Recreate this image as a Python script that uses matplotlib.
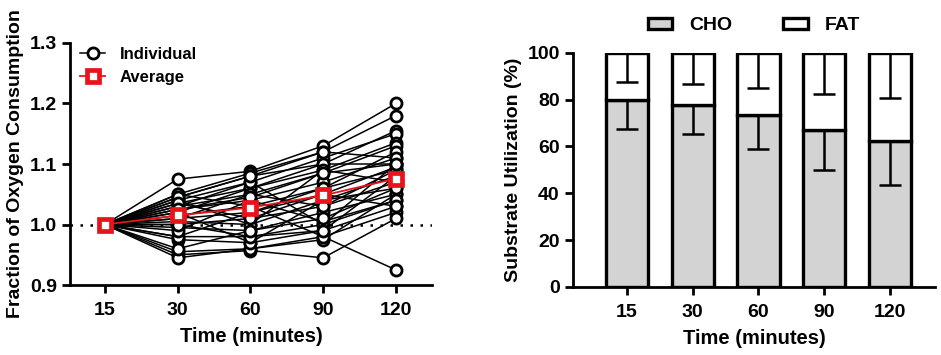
import matplotlib
matplotlib.use("Agg")
import matplotlib.pyplot as plt
import numpy as np
from matplotlib.patches import Patch

TIMES = ["15", "30", "60", "90", "120"]

# individual subjects, fraction of oxygen consumption at 15/30/60/90/120 min
INDIVIDUAL = [
    [1.0, 1.075, 1.088, 1.130, 1.200],
    [1.0, 1.050, 1.085, 1.120, 1.180],
    [1.0, 1.045, 1.080, 1.100, 1.155],
    [1.0, 1.040, 1.070, 1.110, 1.150],
    [1.0, 1.035, 1.060, 1.090, 1.135],
    [1.0, 1.030, 1.050, 1.085, 1.130],
    [1.0, 1.025, 1.040, 1.070, 1.110],
    [1.0, 1.020, 1.060, 1.100, 1.100],
    [1.0, 1.015, 1.030, 1.060, 1.090],
    [1.0, 1.010, 1.020, 1.050, 1.095],
    [1.0, 1.005, 1.000, 1.040, 1.080],
    [1.0, 1.000, 1.010, 1.030, 1.070],
    [1.0, 0.995, 0.990, 1.020, 1.050],
    [1.0, 0.980, 0.980, 1.000, 1.040],
    [1.0, 0.975, 0.970, 0.990, 1.030],
    [1.0, 0.955, 0.960, 0.980, 1.020],
    [1.0, 0.950, 0.957, 0.945, 1.010],
    [1.0, 0.945, 0.960, 0.975, 1.050],
    [1.0, 1.050, 1.030, 0.980, 0.925],
    [1.0, 1.040, 1.000, 1.090, 1.070],
    [1.0, 1.030, 1.070, 1.000, 1.100],
    [1.0, 0.980, 1.020, 1.060, 1.120],
    [1.0, 1.020, 0.970, 1.040, 1.060],
    [1.0, 1.010, 1.050, 1.030, 1.090],
    [1.0, 1.045, 1.080, 1.120, 1.110],
    [1.0, 0.990, 1.040, 1.005, 1.040],
    [1.0, 1.000, 0.980, 0.990, 1.080],
    [1.0, 1.035, 1.010, 1.050, 1.030],
    [1.0, 0.960, 0.990, 1.010, 1.060],
    [1.0, 1.025, 1.045, 1.085, 1.100],
]
AVERAGE = [1.0, 1.015, 1.028, 1.048, 1.076]

# substrate utilization (%)
CHO_MEAN = [79.7, 77.7, 73.3, 66.9, 62.2]
CHO_SD = [12.1, 12.3, 14.3, 17.1, 18.5]
FAT_MEAN = [20.3, 22.3, 26.7, 33.1, 37.8]
FAT_SD = [12.4, 13.1, 14.8, 17.6, 19.3]

RED = "#e8141b"
GREY = "#d3d3d3"

plt.rcParams.update({
    "font.family": ["Liberation Sans", "DejaVu Sans"],
    "font.weight": "bold",
    "axes.labelweight": "bold",
    "axes.linewidth": 2.0,
    "xtick.major.width": 2.0,
    "ytick.major.width": 2.0,
    "xtick.major.size": 6,
    "ytick.major.size": 6,
    "xtick.major.pad": 6,
    "xtick.labelsize": 14,
    "ytick.labelsize": 14,
})

fig = plt.figure(figsize=(9.41, 3.55), dpi=100)
ax1 = fig.add_axes([0.0744, 0.197, 0.385, 0.682])
ax2 = fig.add_axes([0.609, 0.192, 0.385, 0.659])

# ---- left panel
x = np.arange(len(TIMES))
ax1.axhline(1.0, color="black", lw=1.8, ls=(0, (1, 3)), zorder=1)
for i, row in enumerate(INDIVIDUAL):
    ax1.plot(x, row, color="black", lw=1.1, marker="o", ms=8,
             mfc="white", mec="black", mew=2.0, zorder=2,
             label="Individual" if i == 0 else None)
ax1.plot(x, AVERAGE, color=RED, lw=1.3, marker="s", ms=9,
         mfc="white", mec=RED, mew=3.4, zorder=5, label="Average")

ax1.set_xlim(-0.48, 4.5)
ax1.set_ylim(0.9, 1.3)
ax1.set_yticks([0.9, 1.0, 1.1, 1.2, 1.3])
ax1.set_xticks(x)
ax1.set_xticklabels(TIMES)
for s in ["top", "right"]:
    ax1.spines[s].set_visible(False)
ax1.set_xlabel("Time (minutes)", fontsize=14.5, labelpad=6)
ax1.set_ylabel("Fraction of Oxygen Consumption", fontsize=14)
ax1.legend(loc="upper left", bbox_to_anchor=(0.0, 1.025), frameon=False,
           fontsize=12, handlelength=1.5, handletextpad=0.9,
           borderaxespad=0.2, labelspacing=0.5)

# ---- right panel
bw = 0.64
ax2.bar(x, CHO_MEAN, width=bw, color=GREY, edgecolor="black", lw=2.4,
        zorder=2, label="CHO")
ax2.bar(x, FAT_MEAN, width=bw, bottom=CHO_MEAN, color="white",
        edgecolor="black", lw=2.4, zorder=2, label="FAT")
ax2.errorbar(x, CHO_MEAN, yerr=[CHO_SD, [0] * len(x)], fmt="none",
             ecolor="black", elinewidth=1.8, capsize=8, capthick=1.8, zorder=3)
top = np.array(CHO_MEAN) + np.array(FAT_MEAN)
ax2.errorbar(x, top, yerr=[FAT_SD, [0] * len(x)], fmt="none",
             ecolor="black", elinewidth=1.8, capsize=8, capthick=1.8, zorder=3)

ax2.set_xlim(-0.82, 4.69)
ax2.set_ylim(0, 100)
ax2.set_yticks([0, 20, 40, 60, 80, 100])
ax2.set_xticks(x)
ax2.set_xticklabels(TIMES)
for s in ["top", "right"]:
    ax2.spines[s].set_visible(False)
ax2.set_xlabel("Time (minutes)", fontsize=14.5, labelpad=6)
ax2.set_ylabel("Substrate Utilization (%)", fontsize=14)
handles = [Patch(facecolor=GREY, edgecolor="black", lw=2.4),
           Patch(facecolor="white", edgecolor="black", lw=2.4)]
ax2.legend(handles, ["CHO", "FAT"], loc="lower center",
           bbox_to_anchor=(0.5, 1.005), ncol=2, frameon=False, fontsize=14,
           handlelength=1.25, handleheight=0.5, handletextpad=0.9,
           columnspacing=2.6)

fig.savefig("out.png", dpi=100)
